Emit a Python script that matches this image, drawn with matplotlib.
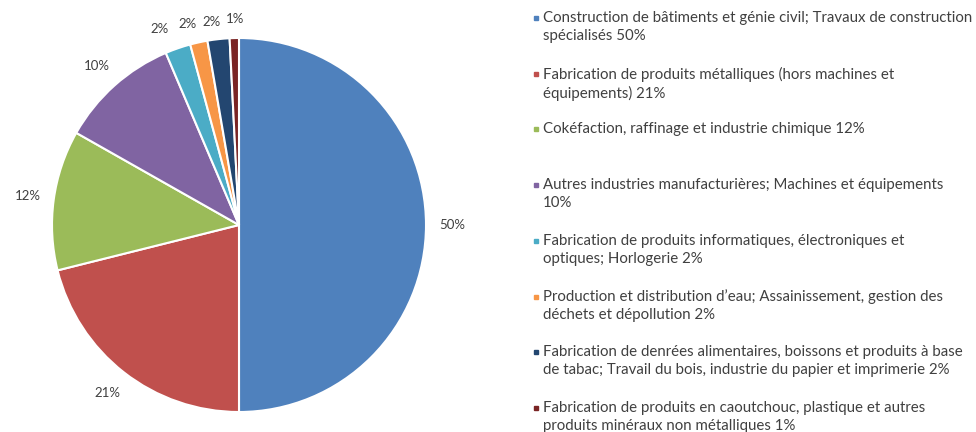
import matplotlib.pyplot as plt
from matplotlib.lines import Line2D

# slice shares (%)
values = [50.0, 21.1, 12.1, 10.4, 2.2, 1.5, 1.9, 0.8]
labels = [
    "Construction de bâtiments et génie civil; Travaux de construction\nspécialisés 50%",
    "Fabrication de produits métalliques (hors machines et\néquipements) 21%",
    "Cokéfaction, raffinage et industrie chimique 12%",
    "Autres industries manufacturières; Machines et équipements\n10%",
    "Fabrication de produits informatiques, électroniques et\noptiques; Horlogerie 2%",
    "Production et distribution d’eau; Assainissement, gestion des\ndéchets et dépollution 2%",
    "Fabrication de denrées alimentaires, boissons et produits à base\nde tabac; Travail du bois, industrie du papier et imprimerie 2%",
    "Fabrication de produits en caoutchouc, plastique et autres\nproduits minéraux non métalliques 1%",
]
colors = ['#4F81BD', '#C0504D', '#9BBB59', '#8064A2',
          '#4BACC6', '#F79646', '#234670', '#7A2424']

plt.rcParams['font.family'] = ['Lato', 'DejaVu Sans']
W, H = 976, 432
fig = plt.figure(figsize=(W / 100, H / 100), dpi=100)

cx, cy, r = 239, 225, 187
ax = fig.add_axes([(cx - r) / W, (H - cy - r) / H, 2 * r / W, 2 * r / H])
wedges, texts, autotexts = ax.pie(
    values, colors=colors, startangle=90, counterclock=False,
    autopct='%.0f%%', pctdistance=1.14, radius=1,
    wedgeprops=dict(edgecolor='white', linewidth=1.5),
    textprops=dict(fontsize=9.5, color='#404040'))
ax.set_xlim(-1, 1)
ax.set_ylim(-1, 1)
ax.set_aspect('equal')
ax.axis('off')

# spread the crowded small labels at the top
shifts = [(0, 0), (0, 0), (0, 0), (0, 0),
          (-0.05, -0.03), (-0.03, -0.04), (-0.02, -0.05), (0.01, -0.04)]
for t, (dx, dy) in zip(autotexts, shifts):
    x, y = t.get_position()
    t.set_position((x + dx, y + dy))

# legend drawn by hand so the entries keep an even spacing
top = 18
step = 55.7
for i, (lab, col) in enumerate(zip(labels, colors)):
    y = top + i * step
    fig.add_artist(Line2D([536 / W], [1 - y / H], marker='s', markersize=3.5,
                          color=col, linestyle='none', transform=fig.transFigure))
    fig.text(543 / W, 1 - (y - 7) / H, lab, fontsize=10.8, color='#404040',
             va='top', ha='left', linespacing=1.35)

fig.savefig('out.png', dpi=100, facecolor='white')
